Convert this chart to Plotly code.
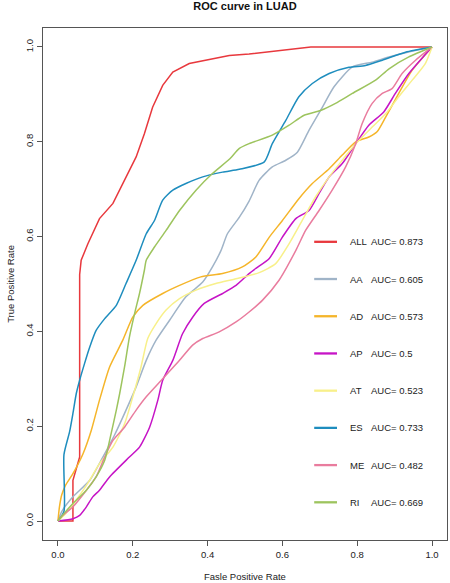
import plotly.graph_objects as go

# ---- data ----
names = ["ALL", "AA", "AD", "AP", "AT", "ES", "ME", "RI"]
auc = ["0.873", "0.605", "0.573", "0.5", "0.523", "0.733", "0.482", "0.669"]
colors = ["#E8383D", "#A0B4C8", "#F5B52A", "#C614C6", "#F8F08A", "#1E8DBE", "#E97C9E", "#9DC45E"]

ALL_x = [0, 0.04, 0.04, 0.058, 0.058, 0.062, 0.08, 0.111, 0.147, 0.182, 0.209, 0.231, 0.253, 0.28, 0.307, 0.351, 0.405, 0.458, 0.511, 0.676, 1.0]
ALL_y = [0, 0, 0.086, 0.135, 0.52, 0.55, 0.585, 0.638, 0.67, 0.726, 0.768, 0.817, 0.873, 0.919, 0.947, 0.965, 0.973, 0.982, 0.985, 1.0, 1.0]

AA_x = [0, 0.01, 0.04, 0.085, 0.12, 0.151, 0.178, 0.209, 0.236, 0.262, 0.298, 0.342, 0.387, 0.413, 0.436, 0.453, 0.485, 0.511, 0.538, 0.573, 0.609, 0.64, 0.671, 0.707, 0.738, 0.787, 0.84, 0.885, 0.94, 1.0]
AA_y = [0, 0.02, 0.051, 0.086, 0.135, 0.181, 0.227, 0.283, 0.339, 0.381, 0.423, 0.473, 0.504, 0.536, 0.571, 0.606, 0.641, 0.675, 0.719, 0.747, 0.761, 0.778, 0.824, 0.873, 0.916, 0.958, 0.968, 0.979, 0.99, 1.0]

AD_x = [0, 0.004, 0.01, 0.02, 0.04, 0.067, 0.089, 0.111, 0.138, 0.173, 0.2, 0.227, 0.28, 0.325, 0.382, 0.44, 0.493, 0.529, 0.565, 0.6, 0.644, 0.68, 0.725, 0.76, 0.796, 0.831, 0.853, 0.876, 0.911, 0.947, 1.0]
AD_y = [0, 0.03, 0.055, 0.075, 0.1, 0.142, 0.191, 0.255, 0.325, 0.381, 0.43, 0.455, 0.48, 0.497, 0.515, 0.522, 0.536, 0.557, 0.599, 0.634, 0.68, 0.712, 0.743, 0.772, 0.8, 0.81, 0.821, 0.852, 0.902, 0.951, 1.0]

AP_x = [0, 0.04, 0.058, 0.076, 0.093, 0.111, 0.138, 0.191, 0.218, 0.245, 0.267, 0.28, 0.307, 0.333, 0.36, 0.391, 0.44, 0.476, 0.511, 0.529, 0.565, 0.6, 0.636, 0.671, 0.698, 0.725, 0.76, 0.796, 0.831, 0.871, 0.902, 0.938, 1.0]
AP_y = [0, 0.005, 0.012, 0.03, 0.051, 0.065, 0.093, 0.135, 0.156, 0.198, 0.255, 0.297, 0.339, 0.395, 0.43, 0.459, 0.48, 0.497, 0.522, 0.533, 0.554, 0.599, 0.638, 0.655, 0.691, 0.726, 0.754, 0.796, 0.835, 0.863, 0.902, 0.944, 1.0]

AT_x = [0, 0.02, 0.04, 0.08, 0.111, 0.147, 0.178, 0.2, 0.222, 0.24, 0.262, 0.289, 0.325, 0.369, 0.422, 0.476, 0.538, 0.582, 0.618, 0.653, 0.689, 0.725, 0.76, 0.796, 0.84, 0.876, 0.911, 0.947, 0.982, 1.0]
AT_y = [0, 0.015, 0.035, 0.08, 0.121, 0.156, 0.205, 0.262, 0.325, 0.385, 0.416, 0.445, 0.469, 0.487, 0.501, 0.511, 0.524, 0.543, 0.585, 0.634, 0.684, 0.726, 0.761, 0.796, 0.831, 0.859, 0.895, 0.93, 0.965, 1.0]

ES_x = [0, 0.016, 0.016, 0.031, 0.04, 0.049, 0.058, 0.071, 0.085, 0.102, 0.125, 0.156, 0.182, 0.209, 0.236, 0.258, 0.28, 0.307, 0.342, 0.387, 0.44, 0.485, 0.551, 0.573, 0.609, 0.644, 0.68, 0.725, 0.778, 0.822, 0.867, 0.929, 1.0]
ES_y = [0, 0.02, 0.14, 0.188, 0.227, 0.269, 0.297, 0.332, 0.367, 0.402, 0.427, 0.455, 0.501, 0.55, 0.606, 0.634, 0.677, 0.698, 0.712, 0.726, 0.736, 0.742, 0.757, 0.796, 0.845, 0.895, 0.923, 0.944, 0.957, 0.961, 0.972, 0.989, 1.0]

ME_x = [0, 0.01, 0.04, 0.076, 0.102, 0.125, 0.147, 0.178, 0.209, 0.236, 0.28, 0.325, 0.36, 0.387, 0.431, 0.476, 0.511, 0.547, 0.591, 0.636, 0.662, 0.698, 0.733, 0.769, 0.796, 0.813, 0.84, 0.867, 0.893, 0.92, 0.956, 1.0]
ME_y = [0, 0.01, 0.03, 0.065, 0.093, 0.135, 0.17, 0.198, 0.234, 0.262, 0.3, 0.339, 0.371, 0.385, 0.399, 0.42, 0.441, 0.466, 0.508, 0.571, 0.613, 0.655, 0.698, 0.747, 0.796, 0.838, 0.881, 0.902, 0.912, 0.944, 0.972, 1.0]

RI_x = [0, 0.01, 0.04, 0.076, 0.102, 0.125, 0.142, 0.156, 0.165, 0.178, 0.191, 0.205, 0.218, 0.231, 0.236, 0.258, 0.289, 0.325, 0.369, 0.413, 0.458, 0.485, 0.511, 0.573, 0.618, 0.658, 0.702, 0.742, 0.787, 0.849, 0.885, 0.938, 1.0]
RI_y = [0, 0.01, 0.037, 0.065, 0.093, 0.128, 0.184, 0.234, 0.269, 0.325, 0.388, 0.438, 0.48, 0.529, 0.55, 0.578, 0.613, 0.655, 0.698, 0.733, 0.763, 0.786, 0.796, 0.814, 0.835, 0.856, 0.866, 0.881, 0.902, 0.93, 0.954, 0.979, 1.0]

xs = [ALL_x, AA_x, AD_x, AP_x, AT_x, ES_x, ME_x, RI_x]
ys = [ALL_y, AA_y, AD_y, AP_y, AT_y, ES_y, ME_y, RI_y]

tick_vals = [0.0, 0.2, 0.4, 0.6, 0.8, 1.0]
tick_text = ["0.0", "0.2", "0.4", "0.6", "0.8", "1.0"]

FONT = "Liberation Sans, Arial, Helvetica, sans-serif"

fig = go.Figure()
for i, n in enumerate(names):
    fig.add_trace(go.Scatter(
        x=xs[i], y=ys[i], mode="lines", name=n, showlegend=False,
        line=dict(color=colors[i], width=1.5,
                  shape="linear" if n == "ALL" else "spline",
                  smoothing=0.6 if n != "ALL" else None),
        hoverinfo="skip"))

# legend drawn in data coordinates (like R's legend())
shapes = []
annotations = []
for i, n in enumerate(names):
    yy = 0.589 - i * 0.0785
    shapes.append(dict(type="line", xref="x", yref="y", x0=0.685, x1=0.746, y0=yy, y1=yy,
                       line=dict(color=colors[i], width=2.3)))
    annotations.append(dict(xref="x", yref="y", x=0.776, y=yy, text=n, showarrow=False,
                            xanchor="left", yanchor="middle",
                            font=dict(family=FONT, size=9.5, color="#222")))
    annotations.append(dict(xref="x", yref="y", x=0.831, y=yy, text="AUC= " + auc[i], showarrow=False,
                            xanchor="left", yanchor="middle",
                            font=dict(family=FONT, size=9.5, color="#222")))

annotations.append(dict(xref="paper", yref="paper", x=0.5, y=-0.071, yanchor="middle",
                        text="Fasle Positive Rate", showarrow=False,
                        font=dict(family=FONT, size=9.5, color="#222")))
annotations.append(dict(xref="paper", yref="paper", x=-0.082, y=0.5, xanchor="center",
                        text="True Positive Rate", showarrow=False, textangle=-90,
                        font=dict(family=FONT, size=9.5, color="#222")))

axis_common = dict(range=[-0.04, 1.04], tickvals=tick_vals, ticktext=tick_text,
                   showgrid=False, zeroline=False, showline=True, mirror=True,
                   linecolor="#555", linewidth=1.2, ticks="outside", ticklen=5,
                   tickcolor="#555", tickwidth=1,
                   tickfont=dict(family=FONT, size=9.5, color="#222"))

fig.update_layout(
    width=450, height=583,
    margin=dict(l=43, r=3, t=28, b=43, autoexpand=False),
    paper_bgcolor="white", plot_bgcolor="white",
    title=dict(text="<b>ROC curve in LUAD</b>", x=0.5, xref="paper", y=0.9895, yanchor="middle",
               font=dict(family=FONT, size=11, color="#111")),
    xaxis=dict(**axis_common),
    yaxis=dict(**axis_common, tickangle=-90),
    shapes=shapes, annotations=annotations,
)

# remove the browser's default 8px body margin so the figure fills the window exactly
fig.write_html("out.html", config={"displayModeBar": False},
               post_script="document.body.style.margin='0px';")
